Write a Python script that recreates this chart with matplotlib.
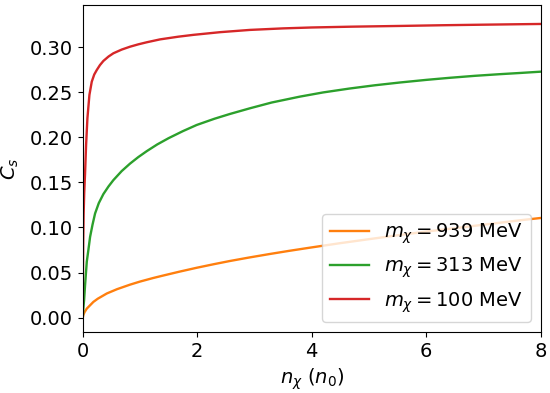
import matplotlib
matplotlib.use("Agg")
import matplotlib.pyplot as plt

# m_chi = 939 MeV
n_939 = [0.0, 0.01, 0.03, 0.07, 0.186, 0.262, 0.42, 0.60, 0.826, 1.0, 1.233, 1.40, 1.69, 1.99, 2.30, 2.57, 2.90, 3.27, 3.60, 3.97, 4.5, 5.0, 5.5, 6.0, 6.5, 7.0, 7.58, 8.0]
c_939 = [0.0, 0.003, 0.006, 0.010, 0.0175, 0.021, 0.0268, 0.0316, 0.0366, 0.0400, 0.0440, 0.0466, 0.0510, 0.0553, 0.0594, 0.0628, 0.0666, 0.0706, 0.0740, 0.0776, 0.0826, 0.0870, 0.0913, 0.0954, 0.0992, 0.1030, 0.1075, 0.1105]

# m_chi = 313 MeV
n_313 = [0.0, 0.005, 0.012, 0.023, 0.04, 0.07, 0.100, 0.128, 0.17, 0.215, 0.28, 0.36, 0.45, 0.535, 0.68, 0.826, 0.97, 1.118, 1.30, 1.5, 1.75, 1.99, 2.3, 2.57, 2.92, 3.3, 3.79, 4.2, 4.66, 5.1, 5.54, 6.0, 6.41, 6.85, 7.28, 7.65, 8.0]
c_313 = [0.0, 0.006, 0.012, 0.0194, 0.036, 0.062, 0.076, 0.0896, 0.103, 0.1155, 0.127, 0.1370, 0.1455, 0.1525, 0.1625, 0.1708, 0.1780, 0.1846, 0.1920, 0.1990, 0.2068, 0.2136, 0.2205, 0.2258, 0.2321, 0.2385, 0.2450, 0.2497, 0.2540, 0.2576, 0.2607, 0.2636, 0.2659, 0.2681, 0.2699, 0.2713, 0.2727]

# m_chi = 100 MeV
n_100 = [0.0, 0.003, 0.008, 0.015, 0.025, 0.04, 0.058, 0.081, 0.116, 0.157, 0.20, 0.245, 0.30, 0.36, 0.45, 0.535, 0.68, 0.826, 0.97, 1.118, 1.35, 1.67, 1.93, 2.4, 2.92, 3.5, 4.0, 4.7, 5.54, 6.3, 7.0, 7.5, 8.0]
c_100 = [0.0, 0.045, 0.085, 0.115, 0.138, 0.160, 0.1915, 0.221, 0.2469, 0.2616, 0.2695, 0.2746, 0.2800, 0.2846, 0.2895, 0.2931, 0.2972, 0.3004, 0.3030, 0.3053, 0.3085, 0.3115, 0.3135, 0.3165, 0.3190, 0.3207, 0.3217, 0.3226, 0.3234, 0.3242, 0.3248, 0.3252, 0.3256]

labels = [r"$m_\chi = 939$ MeV", r"$m_\chi = 313$ MeV", r"$m_\chi = 100$ MeV"]
colors = ["#ff7f0e", "#2ca02c", "#d62728"]

fig = plt.figure(figsize=(5.5, 3.93), dpi=100)
ax = fig.add_axes([0.1505, 0.155, 0.8325, 0.832])
for x, y, lab, col in zip([n_939, n_313, n_100], [c_939, c_313, c_100], labels, colors):
    ax.plot(x, y, color=col, lw=1.7, label=lab)

ax.set_xlim(0, 8)
ax.set_ylim(-0.016, 0.3465)
ax.set_xticks([0, 2, 4, 6, 8])
ax.set_yticks([0.0, 0.05, 0.10, 0.15, 0.20, 0.25, 0.30])
ax.set_yticklabels(["0.00", "0.05", "0.10", "0.15", "0.20", "0.25", "0.30"])
ax.tick_params(labelsize=14)
ax.set_xlabel(r"$n_\chi$ $(n_0)$", fontsize=14)
ax.set_ylabel(r"$C_s$", fontsize=14, labelpad=6)
ax.legend(loc="lower right", fontsize=14)
fig.savefig("out.png", dpi=100)
